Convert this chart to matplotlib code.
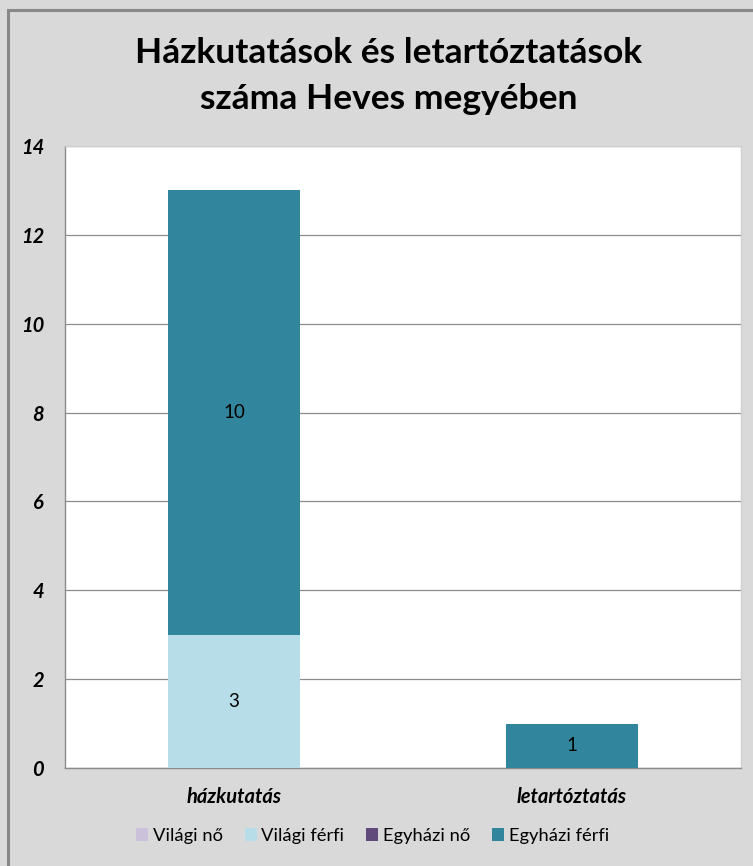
import matplotlib.pyplot as plt
import matplotlib.patches as mpatches
import numpy as np

categories = ["házkutatás", "letartóztatás"]
series_names = ["Világi nő", "Világi férfi", "Egyházi nő", "Egyházi férfi"]
series_values = [
    [0, 0],    # Világi nő
    [3, 0],    # Világi férfi
    [0, 0],    # Egyházi nő
    [10, 1],   # Egyházi férfi
]
series_colors = ["#ccc1da", "#b7dde8", "#604a7b", "#31859c"]

plt.rcParams["font.family"] = ["Lato", "DejaVu Sans"]

fig = plt.figure(figsize=(7.53, 8.66), dpi=100)
fig.patch.set_facecolor("#d9d9d9")
# outer chart frame
fig.patches.append(mpatches.Rectangle((8 / 753, -0.01), 1.0, (866 - 10) / 866 + 0.01,
                                      transform=fig.transFigure, fill=False,
                                      edgecolor="#888888", linewidth=2.2))

ax = fig.add_axes([65 / 753, 98 / 866, 676 / 753, 622 / 866])
ax.set_facecolor("white")

x = np.arange(len(categories))
bottom = np.zeros(len(categories))
for name, vals, color in zip(series_names, series_values, series_colors):
    vals = np.array(vals, dtype=float)
    bars = ax.bar(x, vals, width=0.39, bottom=bottom, color=color, label=name, zorder=3)
    for rect, v, b in zip(bars, vals, bottom):
        if v > 0:
            ax.text(rect.get_x() + rect.get_width() / 2, b + v / 2, f"{int(v)}",
                    ha="center", va="center", fontsize=13.5, color="black", zorder=4)
    bottom += vals

ax.set_xlim(-0.5, 1.5)
ax.set_ylim(0, 14)
ax.set_yticks(range(0, 15, 2))
ax.set_xticks(x)
ax.set_xticklabels(categories, fontsize=14.5, fontweight="bold", fontstyle="italic")
for lbl in ax.get_yticklabels():
    lbl.set_fontsize(14.5)
    lbl.set_fontweight("bold")
    lbl.set_fontstyle("italic")
ax.tick_params(axis="y", length=0, pad=15)
ax.tick_params(axis="x", length=0, pad=14)
ax.grid(True, axis="y", color="#8c8c8c", linewidth=0.9, zorder=0)
for side in ["top", "right"]:
    ax.spines[side].set_color("#d0d0d0")
    ax.spines[side].set_linewidth(1.0)
for side in ["left", "bottom"]:
    ax.spines[side].set_color("#8c8c8c")
    ax.spines[side].set_linewidth(1.0)

fig.text(389 / 753, 1 - 76 / 866, "Házkutatások és letartóztatások\nszáma Heves megyében",
         ha="center", va="center", fontsize=25.5, fontweight="bold", linespacing=1.55)

fig.legend(loc="center", bbox_to_anchor=(0.495, 1 - 836 / 866), ncol=4, frameon=False,
           fontsize=13.2, handlelength=0.65, handleheight=0.65, handletextpad=0.25,
           columnspacing=1.2)

fig.savefig("out.png", dpi=100, facecolor=fig.get_facecolor())
